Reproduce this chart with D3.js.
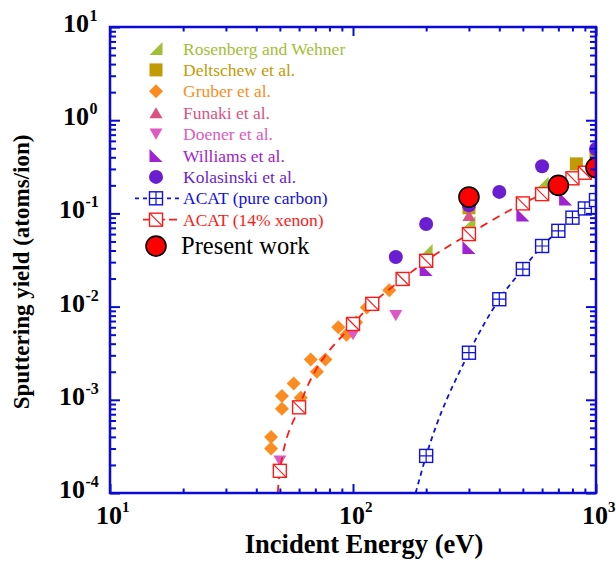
<!DOCTYPE html>
<html>
<head>
<meta charset="utf-8">
<script src="https://cdn.jsdelivr.net/npm/d3@7"></script>
<style>
  body { margin: 0; background: #fff; }
  svg { display: block; }
  text { font-family: "Liberation Serif", "Times New Roman", serif; }
</style>
</head>
<body>
<div id="chart"></div>
<script>
// values: [energy eV, yield atoms/ion]
const rosenberg = [[200, 0.040], [300, 0.080], [600, 0.21]];
const deltschew = [[300, 0.115], [830, 0.34], [1000, 0.42]];
const gruber = [[46, 0.0003], [46, 0.0004], [51, 0.0008], [51, 0.0011], [57, 0.0015],
  [61, 0.00105], [67, 0.0027], [71, 0.002], [77, 0.0027], [87, 0.006], [94, 0.005],
  [103, 0.0068], [114, 0.0098], [141, 0.015]];
const funaki = [[300, 0.095]];
const doener = [[50, 0.00022], [100, 0.005], [150, 0.008]];
const williams = [[200, 0.025], [300, 0.043], [500, 0.096], [750, 0.143]];
const kolasinski = [[150, 0.034], [200, 0.077], [300, 0.122], [400, 0.17], [600, 0.32], [1000, 0.49]];
const acatCarbon = [[200, 0.00025], [300, 0.0032], [400, 0.012], [500, 0.0253], [600, 0.0447],
  [700, 0.065], [800, 0.090], [900, 0.113], [1000, 0.139]];
const acatCarbonStart = [181, 0.0001];
const acatXenon = [[50, 0.000173], [60, 0.00083], [100, 0.0065], [120, 0.0107], [160, 0.0198],
  [200, 0.031], [300, 0.060], [500, 0.128], [600, 0.161], [800, 0.238], [900, 0.273], [1000, 0.30]];
const acatXenonStart = [49, 0.0001];
const presentWork = [[300, 0.15], [700, 0.20], [1000, 0.31]];

const xDomain = [10, 1000];
const yDomain = [1e-4, 10];
const xDecades = [1, 2, 3];
const yDecades = [-4, -3, -2, -1, 0, 1];

const width = 616, height = 565;
const mLeft = 110, mRight = 596, mTop = 27, mBottom = 493;
const axisColor = "#0a0ad8";

const x = d3.scaleLog().domain(xDomain).range([mLeft, mRight]);
const y = d3.scaleLog().domain(yDomain).range([mBottom, mTop]);

const svg = d3.select("#chart").append("svg")
    .attr("width", width)
    .attr("height", height);

svg.append("defs").append("clipPath").attr("id", "plotclip")
  .append("rect")
    .attr("x", mLeft).attr("y", mTop)
    .attr("width", mRight - mLeft).attr("height", mBottom - mTop);

// marker shapes, s = half size
const shapes = {
  rtriR: s => `M${s},${-s}L${s},${s}L${-s},${s}Z`,
  rtriL: s => `M${-s},${-s}L${-s},${s}L${s},${s}Z`,
  square: s => `M${-s},${-s}H${s}V${s}H${-s}Z`,
  diamond: s => `M0,${-s}L${s},0L0,${s}L${-s},0Z`,
  up: s => `M0,${-s * 0.85}L${s},${s * 0.85}L${-s},${s * 0.85}Z`,
  down: s => `M0,${s * 0.85}L${s},${-s * 0.85}L${-s},${-s * 0.85}Z`,
  circle: s => `M${s},0A${s},${s} 0 1,1 ${-s},0A${s},${s} 0 1,1 ${s},0Z`
};

const series = [
  { name: "Rosenberg and Wehner", data: rosenberg, color: "#a2c035", shape: "rtriR", size: 6.5 },
  { name: "Deltschew et al.", data: deltschew, color: "#c29a04", shape: "square", size: 6.5 },
  { name: "Gruber et al.", data: gruber, color: "#fd8c20", shape: "diamond", size: 7 },
  { name: "Funaki et al.", data: funaki, color: "#dc5283", shape: "up", size: 6.5 },
  { name: "Doener et al.", data: doener, color: "#dd5ac4", shape: "down", size: 6.5 },
  { name: "Williams et al.", data: williams, color: "#a022d2", shape: "rtriL", size: 6.5 },
  { name: "Kolasinski et al.", data: kolasinski, color: "#6a1ed2", shape: "circle", size: 7 }
];

const plot = svg.append("g").attr("clip-path", "url(#plotclip)");

series.forEach(s => {
  plot.append("g")
    .selectAll("path")
    .data(s.data)
    .join("path")
      .attr("transform", d => `translate(${x(d[0])},${y(d[1])})`)
      .attr("d", shapes[s.shape](s.size))
      .attr("fill", s.color);
});

// ACAT curves
const line = d3.line()
    .x(d => x(d[0]))
    .y(d => y(d[1]))
    .curve(d3.curveMonotoneX);

const acat = [
  { name: "ACAT (pure carbon)", data: acatCarbon, start: acatCarbonStart, color: "#1010e0", dash: "5,4", mark: "cross" },
  { name: "ACAT (14% xenon)", data: acatXenon, start: acatXenonStart, color: "#ff1a1a", dash: "8,6", mark: "diag" }
];

function acatMarker(g, a, s) {
  g.append("rect")
    .attr("x", -s).attr("y", -s)
    .attr("width", 2 * s).attr("height", 2 * s)
    .attr("fill", "#fff")
    .attr("stroke", a.color)
    .attr("stroke-width", 1.4);
  if (a.mark === "cross") {
    g.append("path")
      .attr("d", `M0,${-s}V${s}M${-s},0H${s}`)
      .attr("stroke", a.color).attr("stroke-width", 1.2);
  } else {
    g.append("path")
      .attr("d", `M${-s},${-s}L${s},${s}`)
      .attr("stroke", a.color).attr("stroke-width", 1.2);
  }
}

acat.forEach(a => {
  plot.append("path")
    .datum([a.start].concat(a.data))
    .attr("d", line)
    .attr("fill", "none")
    .attr("stroke", a.color)
    .attr("stroke-width", 1.8)
    .attr("stroke-dasharray", a.dash);
  plot.append("g")
    .selectAll("g")
    .data(a.data)
    .join("g")
      .attr("transform", d => `translate(${x(d[0])},${y(d[1])})`)
      .each(function() { acatMarker(d3.select(this), a, 6.5); });
});

plot.append("g")
  .selectAll("circle")
  .data(presentWork)
  .join("circle")
    .attr("cx", d => x(d[0]))
    .attr("cy", d => y(d[1]))
    .attr("r", 10)
    .attr("fill", "#ff0000")
    .attr("stroke", "#000")
    .attr("stroke-width", 1.6);

// axes: ticks point inwards on all four sides
const isMajor = v => Math.abs(Math.log10(v) - Math.round(Math.log10(v))) < 1e-9;
const xt = x.ticks();
const yt = y.ticks();

function ticks(axisFn, scale, vals, offset, size) {
  return svg.append("g")
    .attr("transform", offset)
    .call(axisFn(scale).tickValues(vals).tickSize(size).tickFormat(""))
    .call(g => g.select(".domain").remove())
    .call(g => g.selectAll("line").attr("stroke", axisColor).attr("stroke-width", 2));
}

ticks(d3.axisBottom, x, xt.filter(v => !isMajor(v)), `translate(0,${mBottom})`, -4.5);
ticks(d3.axisBottom, x, xt.filter(isMajor), `translate(0,${mBottom})`, -9);
ticks(d3.axisTop, x, xt.filter(v => !isMajor(v)), `translate(0,${mTop})`, -4.5);
ticks(d3.axisTop, x, xt.filter(isMajor), `translate(0,${mTop})`, -9);
ticks(d3.axisLeft, y, yt.filter(v => !isMajor(v)), `translate(${mLeft},0)`, -6);
ticks(d3.axisLeft, y, yt.filter(isMajor), `translate(${mLeft},0)`, -10);
ticks(d3.axisRight, y, yt.filter(v => !isMajor(v)), `translate(${mRight},0)`, -6);
ticks(d3.axisRight, y, yt.filter(isMajor), `translate(${mRight},0)`, -10);

svg.append("rect")
    .attr("x", mLeft).attr("y", mTop)
    .attr("width", mRight - mLeft).attr("height", mBottom - mTop)
    .attr("fill", "none")
    .attr("stroke", axisColor)
    .attr("stroke-width", 2.5);

// tick labels 10^n
const xl = svg.append("g").attr("font-weight", "bold").attr("fill", "#000");
xDecades.forEach(p => {
  const cx = x(Math.pow(10, p));
  xl.append("text").attr("x", cx - 1).attr("y", 524)
    .attr("text-anchor", "middle").attr("font-size", 26).text("10");
  xl.append("text").attr("x", cx + 12).attr("y", 512)
    .attr("font-size", 15).text(p);
});

const yl = svg.append("g").attr("font-weight", "bold").attr("fill", "#000");
yDecades.forEach(p => {
  const cy = y(Math.pow(10, p));
  const bx = p < 0 ? 85 : 89;
  yl.append("text").attr("x", bx).attr("y", cy + 5)
    .attr("text-anchor", "end").attr("font-size", 26).text("10");
  yl.append("text").attr("x", bx + 0.5).attr("y", cy - 6)
    .attr("font-size", 16).text(p < 0 ? "-" + (-p) : p);
});

svg.append("text")
    .attr("x", 364).attr("y", 553)
    .attr("text-anchor", "middle")
    .attr("font-size", 26.5).attr("font-weight", "bold")
    .text("Incident Energy (eV)");

svg.append("text")
    .attr("transform", "translate(29,272) rotate(-90)")
    .attr("text-anchor", "middle")
    .attr("font-size", 23).attr("font-weight", "bold")
    .text("Sputtering yield (atoms/ion)");

// legend
const legend = svg.append("g");
const lx = 156, tx = 183, ly0 = 48.5, dy = 21.4;

series.forEach((s, i) => {
  const cy = ly0 + i * dy;
  legend.append("path")
    .attr("transform", `translate(${lx},${cy})`)
    .attr("d", shapes[s.shape](s.size))
    .attr("fill", s.color);
  legend.append("text")
    .attr("x", tx).attr("y", cy + 6)
    .attr("font-size", 17.5)
    .attr("fill", s.color)
    .text(s.name);
});

const legendLines = [[135, 179], [143, 177]];
acat.forEach((a, j) => {
  const cy = ly0 + (series.length + j) * dy;
  legend.append("line")
    .attr("x1", legendLines[j][0]).attr("x2", legendLines[j][1])
    .attr("y1", cy).attr("y2", cy)
    .attr("stroke", a.color)
    .attr("stroke-width", 1.8)
    .attr("stroke-dasharray", j === 0 ? "4,4" : "9,4");
  const g = legend.append("g").attr("transform", `translate(${lx},${cy})`);
  acatMarker(g, a, 6.5);
  legend.append("text")
    .attr("x", tx).attr("y", cy + 6)
    .attr("font-size", 17.5)
    .attr("fill", a.color)
    .text(a.name);
});

const pwY = ly0 + (series.length + 2) * dy + 5;
legend.append("circle")
    .attr("cx", lx).attr("cy", pwY).attr("r", 10)
    .attr("fill", "#ff0000").attr("stroke", "#000").attr("stroke-width", 1.6);
legend.append("text")
    .attr("x", 181).attr("y", pwY + 8)
    .attr("font-size", 24.5)
    .attr("fill", "#000")
    .text("Present work");
</script>
</body>
</html>
